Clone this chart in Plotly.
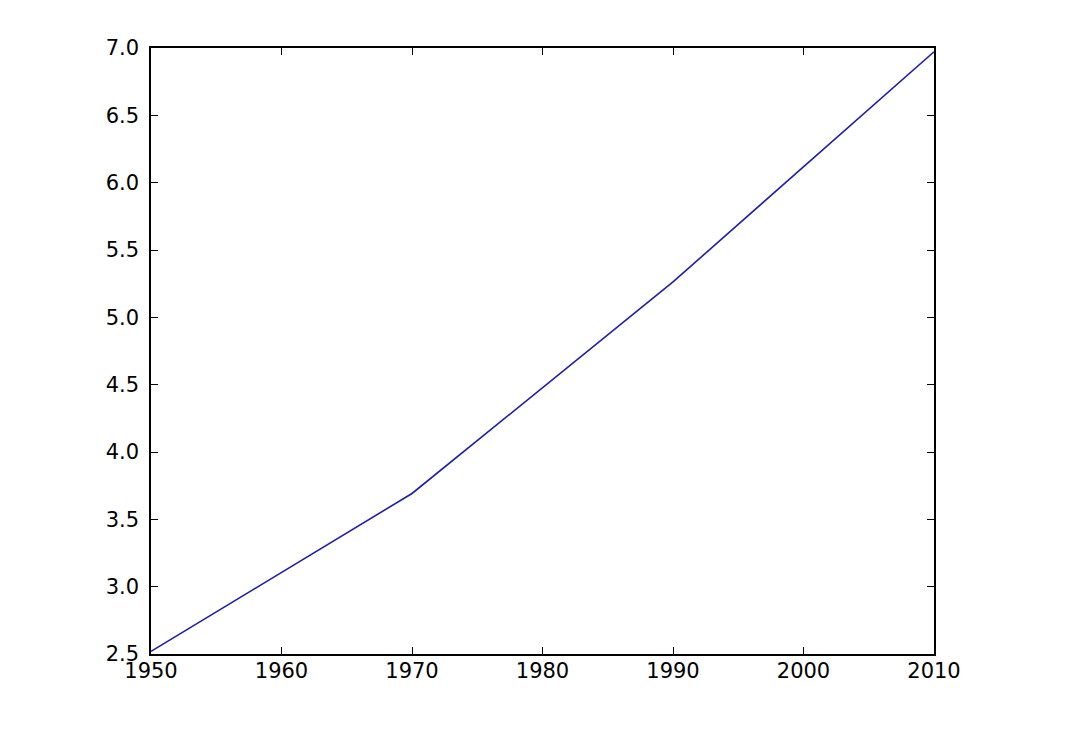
import plotly.graph_objects as go

years = [1950, 1970, 1990, 2010]
population = [2.519, 3.692, 5.263, 6.972]

x_ticks = [1950, 1960, 1970, 1980, 1990, 2000, 2010]
y_ticks = [2.5, 3.0, 3.5, 4.0, 4.5, 5.0, 5.5, 6.0, 6.5, 7.0]

fig = go.Figure()
fig.add_trace(go.Scatter(x=years, y=population, mode="lines",
                         line=dict(color="#1e1eaa", width=1.6), showlegend=False))

axis_common = dict(showgrid=False, zeroline=False, showline=True, linecolor="black",
                   linewidth=1.5, mirror="ticks", ticks="inside", ticklen=7,
                   tickwidth=1, tickcolor="black",
                   tickfont=dict(family="DejaVu Sans", size=21, color="black"))

fig.update_xaxes(range=[1950, 2010], tickvals=x_ticks, ticktext=[str(v) for v in x_ticks],
                 ticklabelstandoff=-3, **axis_common)
fig.update_yaxes(range=[2.5, 7.0], tickvals=y_ticks, ticktext=[f"{v:.1f}" for v in y_ticks],
                 ticklabelstandoff=6, **axis_common)

fig.update_layout(width=1080, height=740, margin=dict(l=143, r=154, t=40, b=94),
                  plot_bgcolor="white", paper_bgcolor="white")

fig.write_html("out.html")
